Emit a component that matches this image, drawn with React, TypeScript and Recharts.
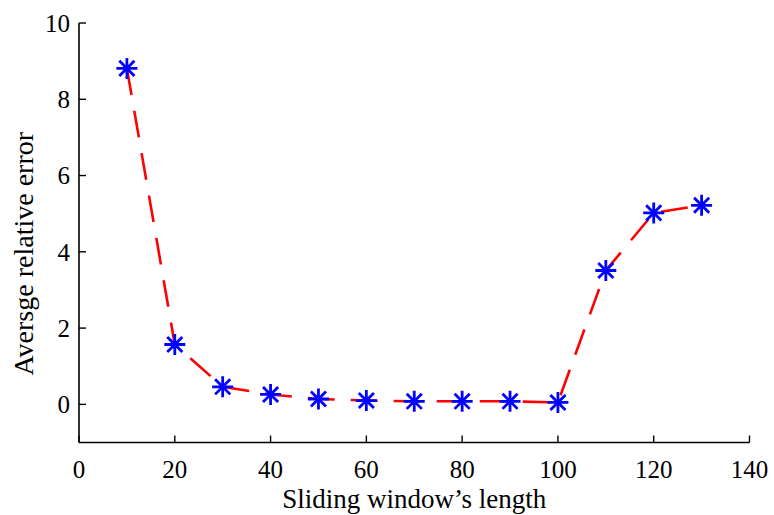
import { LineChart, Line, XAxis, YAxis, Label } from 'recharts';

const windowLengths = [10, 20, 30, 40, 50, 60, 70, 80, 90, 100, 110, 120, 130];
const avgRelError = [8.81, 1.57, 0.46, 0.26, 0.14, 0.1, 0.08, 0.08, 0.08, 0.05, 3.51, 5.02, 5.22];
const xTicks = [0, 20, 40, 60, 80, 100, 120, 140];
const yTicks = [0, 2, 4, 6, 8, 10];

const data = windowLengths.map((x, i) => ({ x, err: avgRelError[i] }));

const FONT =
  '"Liberation Serif", "DejaVu Serif", "Noto Serif", Tinos, "Nimbus Roman", FreeSerif, "Times New Roman", serif';

// MATLAB-style '*' marker
const Asterisk = (props: any) => {
  const { cx, cy, index } = props;
  if (cx == null || cy == null) return <g key={index} />;
  const r = 10.5;
  const d = r * 0.72;
  return (
    <g key={index} stroke="#0000ff" strokeWidth={2.8} strokeLinecap="butt">
      <line x1={cx - r} y1={cy} x2={cx + r} y2={cy} />
      <line x1={cx} y1={cy - r} x2={cx} y2={cy + r} />
      <line x1={cx - d} y1={cy - d} x2={cx + d} y2={cy + d} />
      <line x1={cx - d} y1={cy + d} x2={cx + d} y2={cy - d} />
    </g>
  );
};

const YTitle = (props: any) => {
  const { viewBox } = props;
  const x = viewBox.x + 23;
  const y = viewBox.y + viewBox.height / 2 + 21;
  return (
    <text
      x={x}
      y={y}
      transform={`rotate(-90 ${x} ${y})`}
      textAnchor="middle"
      dominantBaseline="central"
      style={{ fontFamily: FONT }}
      fontSize={28}
      fill="#000"
    >
      Aversge relative error
    </text>
  );
};

const tickStyle = { fill: '#000', fontSize: 25, style: { fontFamily: FONT } };
const axisLine = { stroke: '#000', strokeWidth: 1.6 };
const tickLine = { stroke: '#000', strokeWidth: 1.4 };

export default function App() {
  return (
    <div style={{ position: 'absolute', left: 0, top: 0, background: '#fff', fontFamily: FONT }}>
      <LineChart
        width={774}
        height={515}
        data={data}
        margin={{ top: 23, right: 24.5, bottom: 0, left: 0 }}
        style={{ fontFamily: FONT }}
      >
        <XAxis
          dataKey="x"
          type="number"
          domain={[0, 140]}
          ticks={xTicks}
          height={72.5}
          tick={tickStyle}
          tickSize={-7}
          tickMargin={24.5}
          axisLine={axisLine}
          tickLine={tickLine}
          allowDataOverflow
        >
          <Label
            value="Sliding window’s length"
            position="insideBottom"
            offset={7}
            fill="#000"
            fontSize={27}
            style={{ fontFamily: FONT }}
          />
        </XAxis>
        <XAxis
          xAxisId="top"
          orientation="top"
          dataKey="x"
          type="number"
          domain={[0, 140]}
          ticks={xTicks}
          height={0}
          tick={false}
          tickSize={-7}
          axisLine={axisLine}
          tickLine={tickLine}
        />
        <YAxis
          type="number"
          domain={[-1, 10]}
          ticks={yTicks}
          width={79}
          tick={tickStyle}
          tickSize={-7}
          tickMargin={16}
          axisLine={axisLine}
          tickLine={tickLine}
          allowDataOverflow
        >
          <Label content={YTitle} />
        </YAxis>
        <YAxis
          yAxisId="right"
          orientation="right"
          type="number"
          domain={[-1, 10]}
          ticks={yTicks}
          width={0}
          tick={false}
          tickSize={-7}
          axisLine={axisLine}
          tickLine={tickLine}
        />
        <Line
          dataKey="err"
          type="linear"
          stroke="#ff0000"
          strokeWidth={2.6}
          strokeDasharray="27 16"
          dot={Asterisk}
          activeDot={false}
          isAnimationActive={false}
        />
      </LineChart>
    </div>
  );
}
